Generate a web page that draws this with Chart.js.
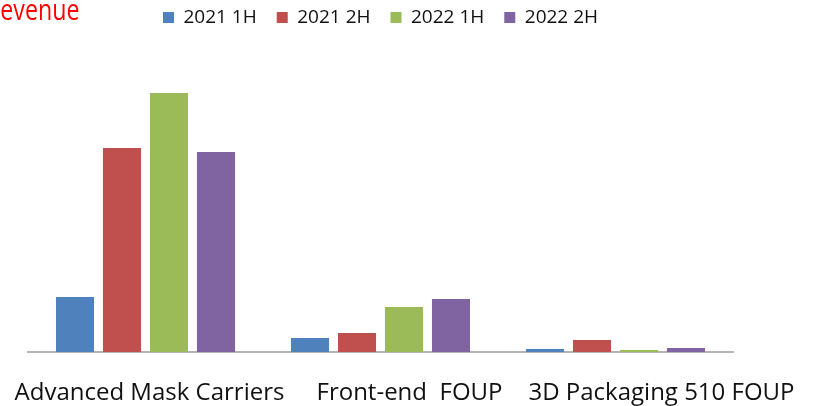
<!DOCTYPE html>
<html>
<head>
<meta charset="utf-8">
<script src="https://cdn.jsdelivr.net/npm/chart.js@4.4.1/dist/chart.umd.min.js"></script>
<style>
  html, body { margin: 0; padding: 0; background: #fff; overflow: hidden; }
  #wrap { position: relative; width: 813px; height: 406px; }
  #revenue {
    position: absolute; left: -14px; top: -6px;
    font-family: "Open Sans", sans-serif; font-size: 29px; line-height: 1;
    color: #ff0000; white-space: nowrap;
    transform: scaleX(0.8); transform-origin: left top;
  }
</style>
</head>
<body>
<div id="wrap">
  <canvas id="chart" width="813" height="406"></canvas>
  <div id="revenue">Revenue</div>
</div>
<script>
// Données (hauteur relative des barres)
const categories = ['Advanced Mask Carriers', 'Front-end  FOUP', '3D Packaging 510 FOUP'];
const seriesNames = ['2021 1H', '2021 2H', '2022 1H', '2022 2H'];
const h1_2021 = [55, 14, 3];
const h2_2021 = [204, 19, 12];
const h1_2022 = [259, 45, 2];
const h2_2022 = [200, 53, 4];
const colors = ['#4F81BD', '#C0504D', '#9BBB59', '#8064A2'];

// Décalage horizontal des libellés (comme dans l'original)
const labelShift = [4, 29, 46];

const allSeries = [h1_2021, h2_2021, h1_2022, h2_2022];

// Libellés des catégories sous l'axe
const categoryLabels = {
    id: 'categoryLabels',
    afterDraw(chart) {
        const ctx = chart.ctx;
        const xScale = chart.scales.x;
        ctx.save();
        ctx.font = '24px "Open Sans"';
        ctx.fillStyle = '#111';
        ctx.textAlign = 'center';
        ctx.textBaseline = 'alphabetic';
        categories.forEach((label, i) => {
            const x = xScale.getPixelForValue(i) + labelShift[i];
            ctx.fillText(label, x, chart.chartArea.bottom + 48);
        });
        ctx.restore();
    }
};

const ctx = document.getElementById('chart').getContext('2d');
new Chart(ctx, {
    type: 'bar',
    data: {
        labels: categories,
        datasets: seriesNames.map((name, i) => ({
            label: name,
            data: allSeries[i],
            backgroundColor: colors[i],
            borderWidth: 0,
            categoryPercentage: 0.8,
            barPercentage: 0.81
        }))
    },
    options: {
        responsive: false,
        animation: false,
        layout: { padding: { top: -12, left: 28, right: 80, bottom: 54 } },
        scales: {
            x: {
                z: 1,
                grid: { display: false, drawTicks: false },
                border: { display: true, color: '#b4b4b4', width: 2 },
                ticks: { display: false }
            },
            y: {
                display: false,
                min: 0,
                max: 315
            }
        },
        plugins: {
            legend: {
                position: 'top',
                align: 'center',
                labels: {
                    boxWidth: 11,
                    boxHeight: 11,
                    padding: 20,
                    color: '#111',
                    font: { family: 'Open Sans', size: 19 }
                }
            },
            tooltip: { enabled: false }
        }
    },
    plugins: [categoryLabels]
});
</script>
</body>
</html>
